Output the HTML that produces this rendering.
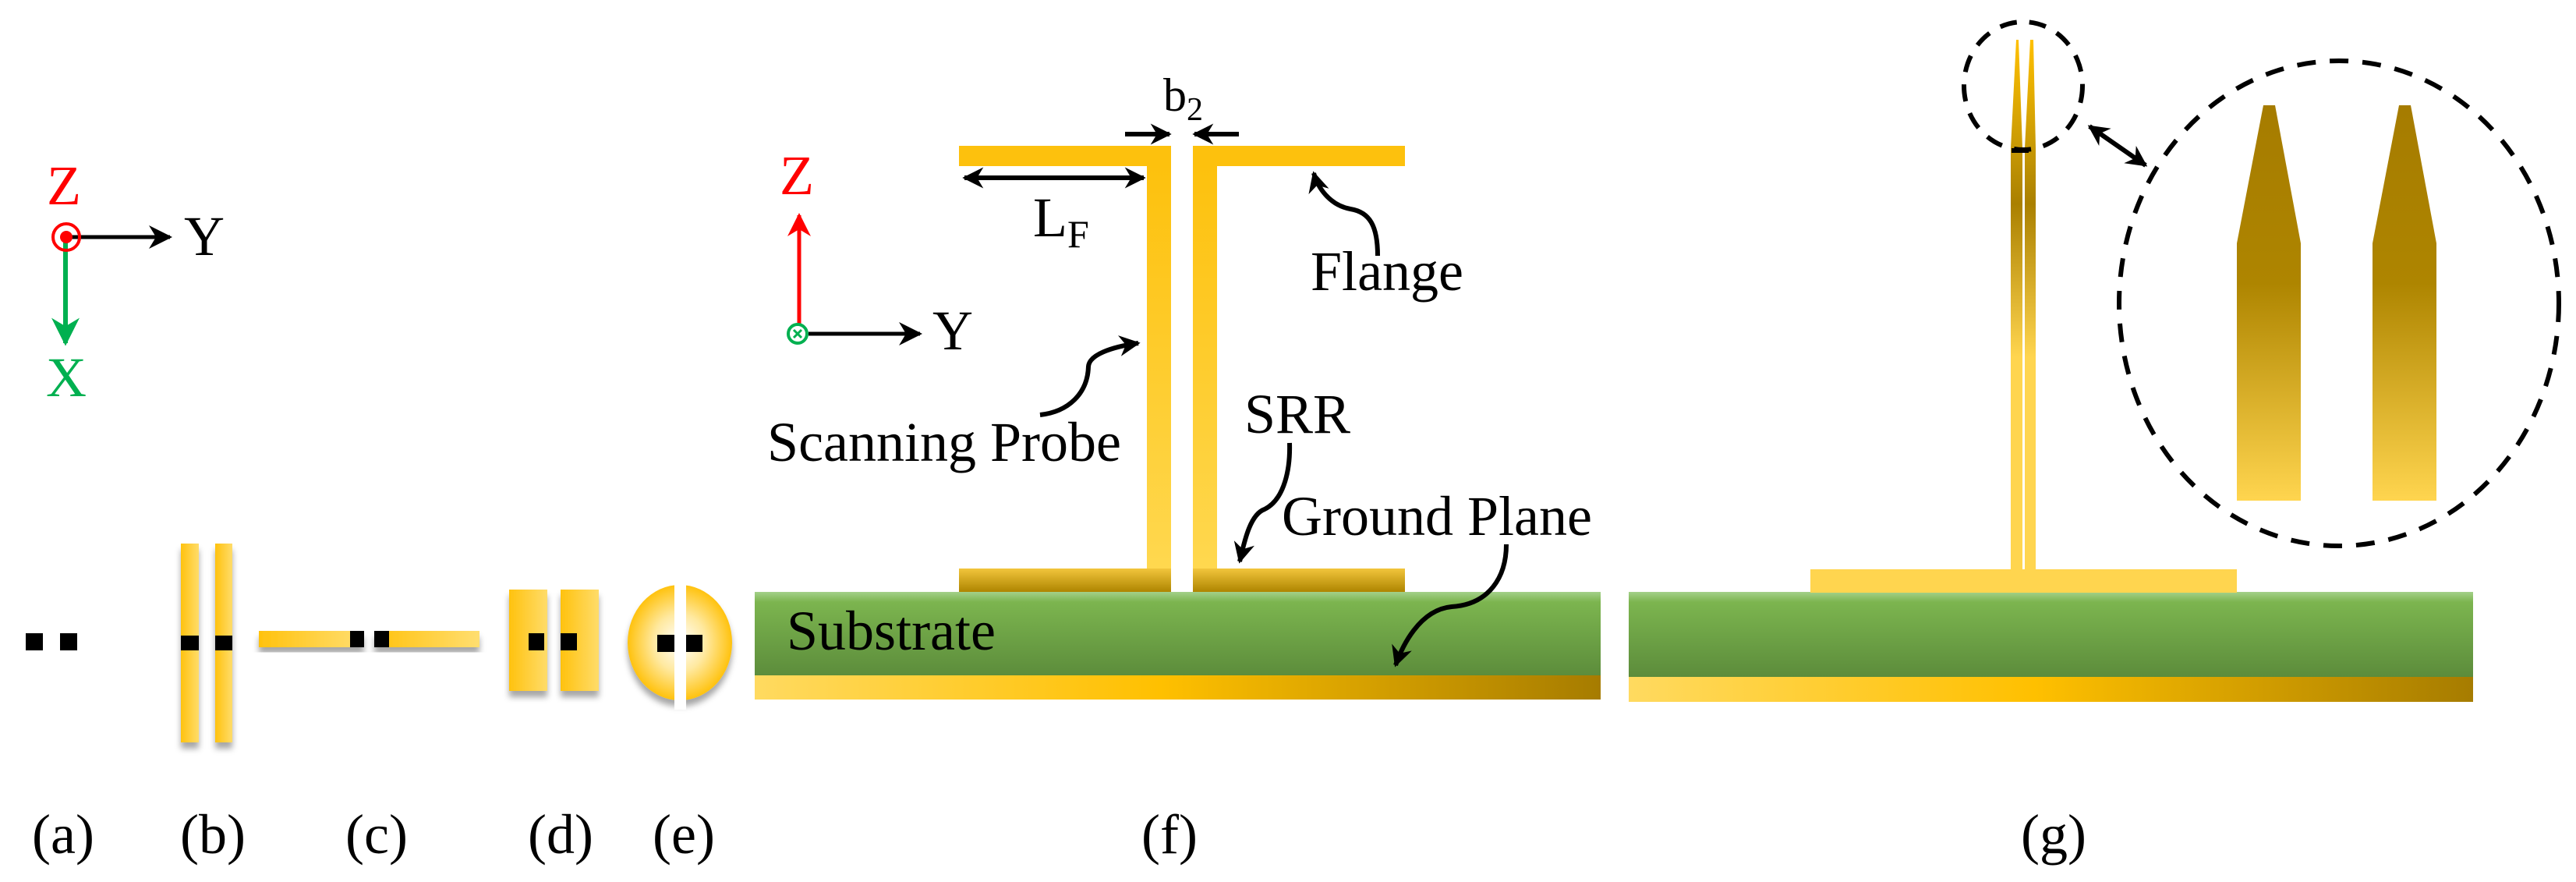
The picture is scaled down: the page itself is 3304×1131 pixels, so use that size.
<!DOCTYPE html>
<html><head><meta charset="utf-8"><style>
html,body{margin:0;padding:0;background:#fff;}
svg{display:block;}
text{font-family:"Liberation Serif",serif;fill:#000;}
</style></head><body>
<svg width="3304" height="1131" viewBox="0 0 3304 1131" xmlns="http://www.w3.org/2000/svg">
<defs>
<marker id="ah" viewBox="0 0 10 10" refX="9" refY="5" markerWidth="4.5" markerHeight="4.5" orient="auto-start-reverse" markerUnits="strokeWidth"><path d="M0,0 L10,5 L0,10 L3,5 z" fill="#000"/></marker>
<marker id="ahs" viewBox="0 0 10 10" refX="9" refY="5" markerWidth="6" markerHeight="6" orient="auto-start-reverse" markerUnits="strokeWidth"><path d="M0,0 L10,5 L0,10 L3,5 z" fill="#000"/></marker>
<marker id="ahr" viewBox="0 0 10 10" refX="9" refY="5" markerWidth="6" markerHeight="6" orient="auto" markerUnits="strokeWidth"><path d="M0,0 L10,5 L0,10 L3,5 z" fill="#f00"/></marker>
<marker id="ahg" viewBox="0 0 10 10" refX="9" refY="5" markerWidth="6" markerHeight="6" orient="auto" markerUnits="strokeWidth"><path d="M0,0 L10,5 L0,10 L3,5 z" fill="#00b050"/></marker>
<linearGradient id="probe" x1="0" y1="0" x2="0" y2="1"><stop offset="0" stop-color="#FDC10D"/><stop offset="1" stop-color="#FFD84F"/></linearGradient>
<linearGradient id="bflange" x1="0" y1="0" x2="0" y2="1"><stop offset="0" stop-color="#F2C53C"/><stop offset="1" stop-color="#AE8500"/></linearGradient>
<linearGradient id="sub" x1="0" y1="0" x2="0" y2="1"><stop offset="0" stop-color="#A3D08A"/><stop offset="0.12" stop-color="#7CB54F"/><stop offset="1" stop-color="#5C8C3B"/></linearGradient>
<linearGradient id="gnd" x1="0" y1="0" x2="1" y2="0"><stop offset="0" stop-color="#FFDA60"/><stop offset="0.48" stop-color="#FFC000"/><stop offset="1" stop-color="#A67C00"/></linearGradient>
<linearGradient id="gprobe" x1="0" y1="0" x2="0" y2="1"><stop offset="0" stop-color="#FFC000"/><stop offset="0.2" stop-color="#C99A05"/><stop offset="0.31" stop-color="#AA8000"/><stop offset="0.6" stop-color="#FFD54F"/><stop offset="1" stop-color="#FFD54F"/></linearGradient>
<linearGradient id="tip" x1="0" y1="0" x2="0" y2="1"><stop offset="0" stop-color="#A67C00"/><stop offset="0.45" stop-color="#AE8500"/><stop offset="1" stop-color="#FFD54F"/></linearGradient>
<linearGradient id="vbar" x1="0" y1="0" x2="1" y2="0"><stop offset="0" stop-color="#FFC20E"/><stop offset="1" stop-color="#FFDC6A"/></linearGradient>
<linearGradient id="hbarL" x1="0" y1="0" x2="1" y2="0"><stop offset="0" stop-color="#FFC20E"/><stop offset="1" stop-color="#FFDE70"/></linearGradient>
<radialGradient id="disk" cx="0.5" cy="0.5" r="0.5"><stop offset="0" stop-color="#FFFFFF"/><stop offset="0.5" stop-color="#FFE9A0"/><stop offset="1" stop-color="#FFC20E"/></radialGradient>
<filter id="sh" x="-30%" y="-30%" width="160%" height="160%"><feDropShadow dx="0" dy="8" stdDeviation="4" flood-color="#000" flood-opacity="0.35"/></filter>
</defs>

<!-- Left axes -->
<text x="82" y="262" font-size="72" text-anchor="middle" style="fill:#f00">Z</text>
<line x1="85" y1="304" x2="218" y2="304" stroke="#000" stroke-width="5" marker-end="url(#ahs)"/>
<line x1="84" y1="304" x2="84" y2="440" stroke="#00b050" stroke-width="6" marker-end="url(#ahg)"/>
<circle cx="85" cy="304" r="17" fill="none" stroke="#f00" stroke-width="4"/>
<circle cx="85" cy="304" r="8" fill="#f00"/>
<text x="262" y="327" font-size="72" text-anchor="middle">Y</text>
<text x="85" y="508" font-size="72" text-anchor="middle" style="fill:#00b050">X</text>

<!-- (a) -->
<rect x="33" y="812" width="22" height="22" fill="#000"/>
<rect x="77" y="812" width="22" height="22" fill="#000"/>

<!-- (b) -->
<g filter="url(#sh)">
<rect x="232" y="697" width="23" height="255" fill="url(#vbar)"/>
<rect x="276" y="697" width="22" height="255" fill="url(#vbar)"/>
</g>
<rect x="232" y="815" width="23" height="19" fill="#000"/>
<rect x="276" y="815" width="22" height="19" fill="#000"/>

<!-- (c) -->
<g filter="url(#sh)">
<rect x="332" y="809" width="135" height="21" fill="url(#hbarL)"/>
<rect x="480" y="809" width="135" height="21" fill="url(#hbarL)"/>
</g>
<rect x="449" y="809" width="18" height="21" fill="#000"/>
<rect x="480" y="809" width="19" height="21" fill="#000"/>

<!-- (d) -->
<g filter="url(#sh)">
<rect x="653" y="756" width="49" height="130" fill="url(#vbar)"/>
<rect x="719" y="756" width="49" height="130" fill="url(#vbar)"/>
</g>
<rect x="678" y="812" width="20" height="22" fill="#000"/>
<rect x="719" y="812" width="21" height="22" fill="#000"/>

<!-- (e) -->
<g filter="url(#sh)">
<ellipse cx="872" cy="824" rx="67" ry="74" fill="url(#disk)"/>
</g>
<rect x="865" y="745" width="15" height="165" fill="#fff"/>
<rect x="843" y="814" width="22" height="22" fill="#000"/>
<rect x="880" y="814" width="21" height="22" fill="#000"/>

<!-- labels a-g -->
<g font-size="72" text-anchor="middle">
<text x="81" y="1094">(a)</text>
<text x="273" y="1094">(b)</text>
<text x="483" y="1094">(c)</text>
<text x="719" y="1094">(d)</text>
<text x="877" y="1094">(e)</text>
<text x="1500" y="1094">(f)</text>
<text x="2634" y="1094">(g)</text>
</g>

<!-- (f) -->
<rect x="968" y="759" width="1085" height="108" fill="url(#sub)"/>
<rect x="968" y="866" width="1085" height="31" fill="url(#gnd)"/>
<rect x="1230" y="187" width="272" height="26" fill="#FDC10D"/>
<rect x="1530" y="187" width="272" height="26" fill="#FDC10D"/>
<rect x="1471" y="213" width="31" height="516" fill="url(#probe)"/>
<rect x="1530" y="213" width="31" height="516" fill="url(#probe)"/>
<rect x="1230" y="729" width="272" height="30" fill="url(#bflange)"/>
<rect x="1530" y="729" width="272" height="30" fill="url(#bflange)"/>

<!-- f axes -->
<text x="1022" y="249" font-size="72" text-anchor="middle" style="fill:#f00">Z</text>
<line x1="1025" y1="416" x2="1025" y2="276" stroke="#f00" stroke-width="5" marker-end="url(#ahr)"/>
<line x1="1037" y1="428" x2="1180" y2="428" stroke="#000" stroke-width="5" marker-end="url(#ahs)"/>
<circle cx="1023" cy="428" r="12" fill="#fff" stroke="#00b050" stroke-width="4"/>
<path d="M1018,423 L1028,433 M1028,423 L1018,433" stroke="#00b050" stroke-width="3"/>
<text x="1222" y="448" font-size="72" text-anchor="middle">Y</text>

<!-- LF -->
<line x1="1237" y1="228" x2="1467" y2="228" stroke="#000" stroke-width="6" marker-start="url(#ah)" marker-end="url(#ah)"/>
<text x="1325" y="303" font-size="72">L<tspan font-size="50" dy="14">F</tspan></text>
<!-- b2 -->
<line x1="1443" y1="172" x2="1500" y2="172" stroke="#000" stroke-width="6" marker-end="url(#ah)"/>
<line x1="1589" y1="172" x2="1532" y2="172" stroke="#000" stroke-width="6" marker-end="url(#ah)"/>
<text x="1492" y="142" font-size="60">b<tspan font-size="42" dy="12">2</tspan></text>

<g font-size="72" text-anchor="middle">
<text x="1779" y="372">Flange</text>
<text x="1211" y="591">Scanning Probe</text>
<text x="1664" y="555">SRR</text>
<text x="1843" y="686">Ground Plane</text>
<text x="1143" y="833">Substrate</text>
</g>

<g fill="none" stroke="#000" stroke-width="6">
<path d="M1767,328 C1767,290 1757,272 1732,268 C1705,263 1690,240 1685,222" marker-end="url(#ah)"/>
<path d="M1334,532 C1370,528 1395,505 1396,470 C1397,455 1425,445 1460,440" marker-end="url(#ah)"/>
<path d="M1654,568 C1655,600 1648,640 1622,653 C1602,660 1595,700 1590,720" marker-end="url(#ah)"/>
<path d="M1932,698 C1932,740 1910,775 1862,778 C1820,782 1798,830 1790,853" marker-end="url(#ah)"/>
</g>

<!-- (g) -->
<rect x="2089" y="759" width="1083" height="109" fill="url(#sub)"/>
<rect x="2089" y="868" width="1083" height="32" fill="url(#gnd)"/>
<rect x="2322" y="730" width="547" height="30" fill="#FFD54F"/>
<path d="M2586,51 L2589,51 L2594,190 L2594,730 L2579,730 L2579,190 Z" fill="url(#gprobe)"/>
<path d="M2604,51 L2608,51 L2611,190 L2611,730 L2597,730 L2597,190 Z" fill="url(#gprobe)"/>
<line x1="2580" y1="193" x2="2602" y2="193" stroke="#000" stroke-width="6"/>
<ellipse cx="2595" cy="110" rx="76" ry="82" fill="none" stroke="#000" stroke-width="6" stroke-dasharray="22,16"/>
<line x1="2680" y1="162" x2="2752" y2="212" stroke="#000" stroke-width="6" marker-start="url(#ah)" marker-end="url(#ah)"/>
<ellipse cx="3000" cy="389" rx="282" ry="311" fill="none" stroke="#000" stroke-width="6" stroke-dasharray="24,18"/>
<path d="M2903,135 L2918,135 L2951,312 L2951,642 L2869,642 L2869,312 Z" fill="url(#tip)"/>
<path d="M3077,135 L3092,135 L3125,312 L3125,642 L3043,642 L3043,312 Z" fill="url(#tip)"/>
</svg>
</body></html>
